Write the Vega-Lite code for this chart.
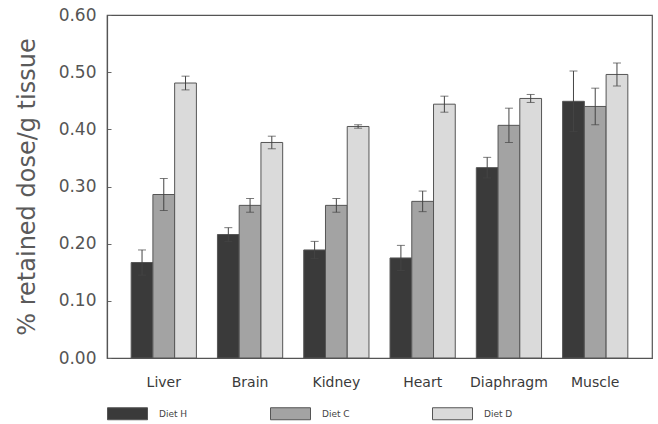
{
  "$schema": "https://vega.github.io/schema/vega-lite/v6.json",
  "autosize": {"type": "none"},
  "padding": {"left": 107, "top": 15, "right": 6, "bottom": 66},
  "width": 545,
  "height": 343,
  "background": "white",
  "config": {
    "font": "DejaVu Sans",
    "view": {"stroke": "#555555", "strokeWidth": 1.2}
  },
  "data": {
    "values": [
      {"tissue": "Liver", "diet": "Diet H", "mean": 0.167, "lo": 0.145, "hi": 0.189},
      {"tissue": "Liver", "diet": "Diet C", "mean": 0.286, "lo": 0.258, "hi": 0.314},
      {"tissue": "Liver", "diet": "Diet D", "mean": 0.481, "lo": 0.469, "hi": 0.493},
      {"tissue": "Brain", "diet": "Diet H", "mean": 0.216, "lo": 0.204, "hi": 0.228},
      {"tissue": "Brain", "diet": "Diet C", "mean": 0.267, "lo": 0.255, "hi": 0.279},
      {"tissue": "Brain", "diet": "Diet D", "mean": 0.377, "lo": 0.366, "hi": 0.388},
      {"tissue": "Kidney", "diet": "Diet H", "mean": 0.189, "lo": 0.174, "hi": 0.204},
      {"tissue": "Kidney", "diet": "Diet C", "mean": 0.267, "lo": 0.255, "hi": 0.279},
      {"tissue": "Kidney", "diet": "Diet D", "mean": 0.405, "lo": 0.402, "hi": 0.408},
      {"tissue": "Heart", "diet": "Diet H", "mean": 0.175, "lo": 0.153, "hi": 0.197},
      {"tissue": "Heart", "diet": "Diet C", "mean": 0.274, "lo": 0.256, "hi": 0.292},
      {"tissue": "Heart", "diet": "Diet D", "mean": 0.444, "lo": 0.430, "hi": 0.458},
      {"tissue": "Diaphragm", "diet": "Diet H", "mean": 0.333, "lo": 0.315, "hi": 0.351},
      {"tissue": "Diaphragm", "diet": "Diet C", "mean": 0.407, "lo": 0.377, "hi": 0.437},
      {"tissue": "Diaphragm", "diet": "Diet D", "mean": 0.454, "lo": 0.447, "hi": 0.461},
      {"tissue": "Muscle", "diet": "Diet H", "mean": 0.449, "lo": 0.396, "hi": 0.502},
      {"tissue": "Muscle", "diet": "Diet C", "mean": 0.440, "lo": 0.408, "hi": 0.472},
      {"tissue": "Muscle", "diet": "Diet D", "mean": 0.496, "lo": 0.476, "hi": 0.516}
    ]
  },
  "encoding": {
    "x": {
      "field": "tissue",
      "type": "nominal",
      "sort": ["Liver", "Brain", "Kidney", "Heart", "Diaphragm", "Muscle"],
      "scale": {"paddingInner": 0.244, "paddingOuter": 0.28},
      "axis": {
        "title": null,
        "labelAngle": 0,
        "labelFontSize": 14,
        "labelColor": "#3a3a3a",
        "labelPadding": 17,
        "ticks": false,
        "domainColor": "#555555",
        "domainWidth": 1.2
      }
    },
    "xOffset": {
      "field": "diet",
      "type": "nominal",
      "sort": ["Diet H", "Diet C", "Diet D"],
      "scale": {"paddingInner": 0, "paddingOuter": 0}
    }
  },
  "layer": [
    {
      "mark": {"type": "bar", "stroke": "#555555", "strokeWidth": 1},
      "encoding": {
        "y": {
          "field": "mean",
          "type": "quantitative",
          "scale": {"domain": [0, 0.6], "nice": false},
          "axis": {
            "title": "% retained dose/g tissue",
            "titleFontSize": 24,
            "titleFontWeight": "normal",
            "titleColor": "#5a5a5a",
            "titlePadding": 19,
            "values": [0, 0.05, 0.1, 0.15, 0.2, 0.25, 0.3, 0.35, 0.4, 0.45, 0.5, 0.55, 0.6],
            "labelExpr": "(round(datum.value*100) % 10 == 0) ? format(datum.value, '.2f') : ''",
            "labelFontSize": 17,
            "labelColor": "#555555",
            "labelPadding": 15,
            "tickSize": -4,
            "tickColor": "#666666",
            "grid": false,
            "domainColor": "#555555",
            "domainWidth": 1.2
          }
        },
        "fill": {
          "field": "diet",
          "type": "nominal",
          "sort": ["Diet H", "Diet C", "Diet D"],
          "scale": {"domain": ["Diet H", "Diet C", "Diet D"], "range": ["#3a3a3a", "#a3a3a3", "#dadada"]},
          "legend": {
            "title": null,
            "orient": "bottom",
            "direction": "horizontal",
            "offset": 4,
            "symbolType": "M-1,-0.3L1,-0.3L1,0.3L-1,0.3Z",
            "symbolSize": 1600,
            "symbolStrokeColor": "#555555",
            "symbolStrokeWidth": 1,
            "labelFontSize": 9,
            "labelColor": "#444444",
            "labelOffset": 11,
            "columnPadding": 80
          }
        }
      }
    },
    {
      "mark": {"type": "rule", "color": "#444444", "strokeWidth": 1},
      "encoding": {
        "y": {"field": "lo", "type": "quantitative"},
        "y2": {"field": "hi"}
      }
    },
    {
      "mark": {"type": "tick", "color": "#444444", "thickness": 1, "size": 8},
      "encoding": {"y": {"field": "hi", "type": "quantitative"}}
    },
    {
      "mark": {"type": "tick", "color": "#444444", "thickness": 1, "size": 8},
      "encoding": {"y": {"field": "lo", "type": "quantitative"}}
    }
  ]
}
